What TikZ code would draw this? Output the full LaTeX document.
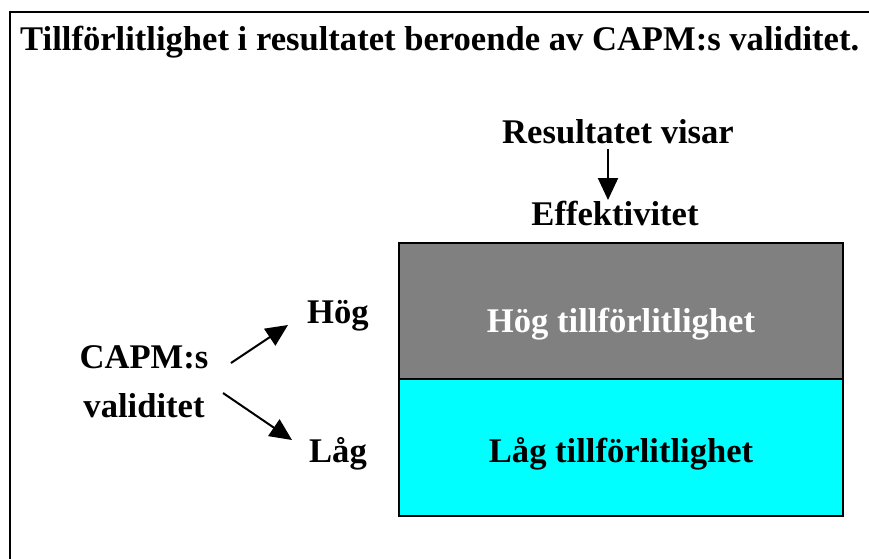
\documentclass[tikz,border=0pt]{standalone}
\usepackage{fontspec}
\setmainfont{Liberation Serif}
\usetikzlibrary{arrows.meta}
\begin{document}
\begin{tikzpicture}[x=1pt,y=-1pt,
  lbl/.style={font=\fontsize{34.6}{40}\selectfont\bfseries, inner sep=0pt, anchor=base},
  arr/.style={line width=2pt, -{Triangle[length=22pt,width=20pt]}},
  frame/.style={line width=2.2pt},
  part/.style={line width=2.6pt}]
  \useasboundingbox (0,0) rectangle (869,558);
  % open frame running off the right and bottom edges
  \draw[frame] (10,560) -- (10,12) -- (871,12);
  % title
  \node[lbl, anchor=base west] (title) at (20,50) {Tillförlitlighet i resultatet beroende av CAPM:s validitet.};
  % result column
  \node[lbl] (res) at (618,143) {Resultatet visar};
  \node[lbl] (eff) at (615,225) {Effektivitet};
  \coordinate (resb) at (608,149);
  \coordinate (efft) at (608,200);
  \draw[arr] (resb) -- (efft);
  % two-part box
  \draw[part, fill={rgb,255:red,128;green,128;blue,128}] (399,243) rectangle (843,379);
  \draw[part, fill={rgb,255:red,0;green,255;blue,255}] (399,379) rectangle (843,516);
  \node[lbl, text=white] (hogt) at (621,332) {Hög tillförlitlighet};
  \node[lbl] (lagt) at (621,462) {Låg tillförlitlighet};
  % validity branch
  \node[lbl] (capm) at (144,368) {CAPM:s};
  \node[lbl] (val) at (144,417) {validitet};
  \node[lbl] (hog) at (338,323) {Hög};
  \node[lbl] (lag) at (338,462) {Låg};
  \coordinate (c1) at (231,363);
  \coordinate (h1) at (288,325);
  \coordinate (c2) at (223,393);
  \coordinate (l1) at (292,440);
  \draw[arr] (c1) -- (h1);
  \draw[arr] (c2) -- (l1);
\end{tikzpicture}
\end{document}
